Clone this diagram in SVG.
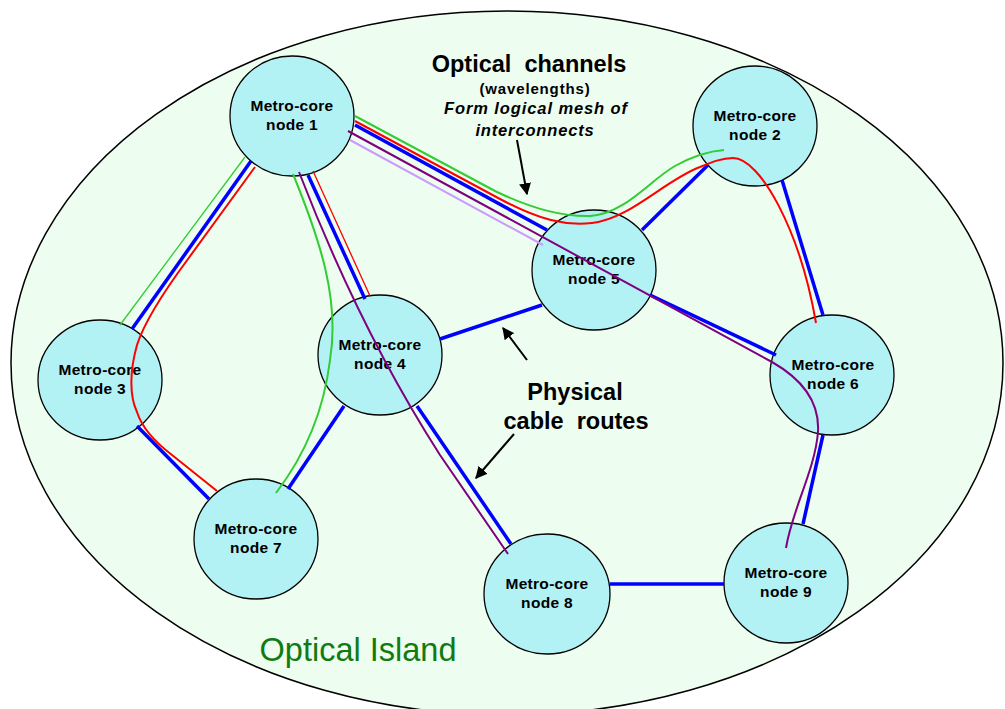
<svg xmlns="http://www.w3.org/2000/svg" width="1005" height="709" viewBox="0 0 1005 709">
<style>
.node ellipse{fill:#b2f2f5;stroke:#000;stroke-width:1.3}
.nt{font-family:"Liberation Sans",Arial,sans-serif;font-weight:bold;font-size:15.5px;letter-spacing:0.3px;text-anchor:middle;fill:#000}
.lbl{font-family:"Liberation Sans",Arial,sans-serif;font-weight:bold;fill:#000;text-anchor:middle}
.c{fill:none;stroke-linecap:butt}
.blue{stroke:#0000ff;stroke-width:3.5}
.red{stroke:#ff0000;stroke-width:2}
.redt{stroke:#ff0000;stroke-width:1.3}
.green{stroke:#33cc33;stroke-width:2}
.greent{stroke:#33cc33;stroke-width:1.3}
.purple{stroke:#800080;stroke-width:2}
.lav{stroke:#cc99ff;stroke-width:2}
.arr{stroke:#000;stroke-width:2;fill:none}
</style>
<defs>
<marker id="ah" viewBox="0 0 10 10" refX="9" refY="5" markerWidth="6" markerHeight="6" orient="auto" markerUnits="strokeWidth">
<path d="M0,0 L10,5 L0,10 z" fill="#000"/>
</marker>
</defs>
<rect width="1005" height="709" fill="#fff"/>
<ellipse id="island" cx="507" cy="363" rx="496" ry="352" fill="#edfdf0" stroke="#000" stroke-width="1.5"/>
<text x="358" y="661" font-family="'Liberation Sans',Arial,sans-serif" font-size="32.5" fill="#117a11" text-anchor="middle">Optical Island</text>

<g id="node1" class="node"><ellipse cx="292" cy="116" rx="62" ry="60"/><text class="nt" x="292" y="111">Metro-core</text><text class="nt" x="292" y="130">node 1</text></g>
<g id="node2" class="node"><ellipse cx="755" cy="126" rx="62" ry="60"/><text class="nt" x="755" y="121">Metro-core</text><text class="nt" x="755" y="140">node 2</text></g>
<g id="node3" class="node"><ellipse cx="100" cy="380" rx="62" ry="60"/><text class="nt" x="100" y="375">Metro-core</text><text class="nt" x="100" y="394">node 3</text></g>
<g id="node4" class="node"><ellipse cx="380" cy="355" rx="62" ry="60"/><text class="nt" x="380" y="350">Metro-core</text><text class="nt" x="380" y="369">node 4</text></g>
<g id="node5" class="node"><ellipse cx="594" cy="270" rx="62" ry="60"/><text class="nt" x="594" y="265">Metro-core</text><text class="nt" x="594" y="284">node 5</text></g>
<g id="node6" class="node"><ellipse cx="832" cy="375" rx="62" ry="60"/><text class="nt" x="833" y="370">Metro-core</text><text class="nt" x="833" y="389">node 6</text></g>
<g id="node7" class="node"><ellipse cx="256" cy="539" rx="62" ry="60"/><text class="nt" x="256" y="534">Metro-core</text><text class="nt" x="256" y="553">node 7</text></g>
<g id="node8" class="node"><ellipse cx="547" cy="594" rx="63" ry="60"/><text class="nt" x="547" y="589">Metro-core</text><text class="nt" x="547" y="608">node 8</text></g>
<g id="node9" class="node"><ellipse cx="786" cy="583" rx="62" ry="60"/><text class="nt" x="786" y="578">Metro-core</text><text class="nt" x="786" y="597">node 9</text></g>

<g id="connectors">
<!-- physical cable routes -->
<path class="c blue" d="M251,161 L132,329"/>
<path class="c blue" d="M308,175 L365,299"/>
<path class="c blue" d="M355,125 L547,230"/>
<path class="c blue" d="M708,165 L642,230"/>
<path class="c blue" d="M782,180 L823,315"/>
<path class="c blue" d="M650,295 L776,355"/>
<path class="c blue" d="M542,305 L440,339"/>
<path class="c blue" d="M823,435 L803,524"/>
<path class="c blue" d="M610,584 L724,584"/>
<path class="c blue" d="M417,406 L511,544"/>
<path class="c blue" d="M137,426 L209,499"/>
<path class="c blue" d="M344,406 L288,489"/>
<!-- optical channels -->
<path class="c greent" d="M245,157 L120,325"/>
<path class="c red" d="M255,167 L188,259 C165,290 145,320 137,345 C130,370 129,395 137,412 C142,428 155,442 172,455 L217,491"/>
<path class="c green" d="M293,174 C320,240 340,300 330,360 C324,410 305,455 276,493"/>
<path class="c purple" d="M299,172 Q360,330 440,455 L508,554"/>
<path class="c redt" d="M313,171 L370,296"/>
<path class="c green" d="M355,116 L495,191 C530,208 560,217 590,216 C625,214 650,180 675,166 C695,155 710,151 724,150"/>
<path class="c red" d="M355,121 L500,199 C540,220 565,226 592,223 C630,219 665,180 700,167 C712,162 722,158 733,158 C760,158 800,230 816,323"/>
<path class="c purple" d="M348,131 L772,362 C800,378 820,400 818,432 C815,470 792,510 786,548"/>
<path class="c lav" d="M350,140 L543,245"/>
</g>

<g id="labels">
<text class="lbl" x="529" y="72" font-size="23.5" xml:space="preserve">Optical  channels</text>
<text class="lbl" x="535" y="94" font-size="15" letter-spacing="0.85">(wavelengths)</text>
<text class="lbl" x="536" y="114" font-size="16.5" font-style="italic" letter-spacing="0.9">Form logical mesh of</text>
<text class="lbl" x="535" y="136" font-size="16.5" font-style="italic" letter-spacing="0.85">interconnects</text>
<text class="lbl" x="575" y="400" font-size="23.5">Physical</text>
<text class="lbl" x="576" y="429" font-size="23.5" xml:space="preserve">cable  routes</text>
<path class="arr" d="M517,140 L527,194" marker-end="url(#ah)"/>
<path class="arr" d="M527,360 L503,328" marker-end="url(#ah)"/>
<path class="arr" d="M514,434 L476,478" marker-end="url(#ah)"/>
</g>
</svg>
